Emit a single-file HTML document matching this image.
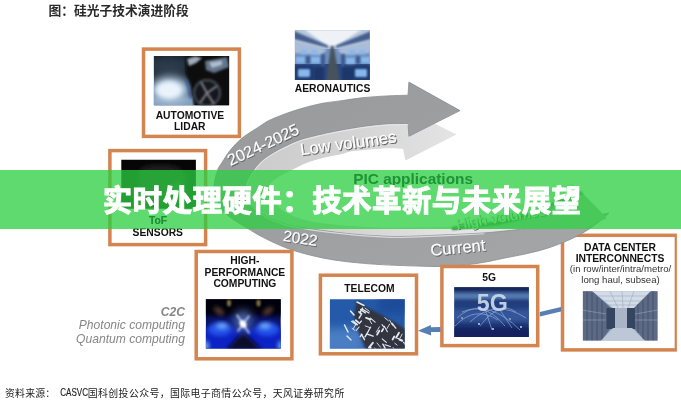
<!DOCTYPE html>
<html lang="zh">
<head>
<meta charset="utf-8">
<title>实时处理硬件：技术革新与未来展望</title>
<style>
html,body{margin:0;padding:0;background:#fff;}
body{width:681px;height:400px;overflow:hidden;position:relative;font-family:"Liberation Sans","Noto Sans CJK SC",sans-serif;}
#stage{opacity:0.999;position:absolute;left:0;top:0;width:681px;height:400px;overflow:hidden;background:#fff;}
svg{position:absolute;left:0;top:0;}
#base{filter:blur(0.3px);}
.banner{position:absolute;left:0;top:170px;width:681px;height:58.8px;background:rgba(44,206,66,0.76);}
.title{position:absolute;left:1.6px;top:171.4px;width:681px;height:59px;line-height:59px;text-align:center;color:#fff;font-weight:bold;font-size:29.5px;letter-spacing:0.43px;font-family:"Liberation Sans","Noto Sans CJK SC",sans-serif;-webkit-text-stroke:1px #fff;}
.lbl{font-family:'Liberation Sans',sans-serif;font-size:16px;fill:#fff;stroke:#fff;stroke-width:0.2px;}
.sh{font-family:'Liberation Sans',sans-serif;font-size:16px;fill:#666;stroke:#666;stroke-width:0.3px;}
</style>
</head>
<body>
<div id="stage">
<svg id="base" width="681" height="400" viewBox="0 0 681 400">
<defs>
  <filter id="soft" x="-5%" y="-5%" width="110%" height="110%"><feGaussianBlur stdDeviation="0.5"/></filter>
  <filter id="b1" x="-30%" y="-30%" width="160%" height="160%"><feGaussianBlur stdDeviation="1"/></filter>
  <filter id="b2" x="-50%" y="-50%" width="200%" height="200%"><feGaussianBlur stdDeviation="2"/></filter>
  <filter id="b4" x="-100%" y="-100%" width="300%" height="300%"><feGaussianBlur stdDeviation="4"/></filter>
  <linearGradient id="darkg" x1="0" y1="0" x2="1" y2="1">
    <stop offset="0" stop-color="#98999b"/><stop offset="1" stop-color="#a5a6a8"/>
  </linearGradient>
  <linearGradient id="lightg" gradientUnits="userSpaceOnUse" x1="250" y1="0" x2="456" y2="0"><stop offset="0" stop-color="#cbcbcb"/><stop offset="0.5" stop-color="#d4d4d4"/><stop offset="1" stop-color="#e4e4e4"/></linearGradient>
  <clipPath id="cCar"><rect x="153.9" y="55.9" width="75.2" height="49.3"/></clipPath>
  <clipPath id="cAero"><rect x="294.9" y="30.2" width="74.9" height="49.7"/></clipPath>
  <clipPath id="cHpc"><rect x="205.9" y="299.2" width="74.8" height="49.3"/></clipPath>
  <clipPath id="cTel"><rect x="329.9" y="299.2" width="74.8" height="49.3"/></clipPath>
  <clipPath id="c5g"><rect x="454.3" y="287.2" width="74.5" height="49.7"/></clipPath>
  <clipPath id="cDc"><rect x="582.9" y="291.2" width="74.6" height="49.3"/></clipPath>
  <clipPath id="cTof"><rect x="121.3" y="159.5" width="74.6" height="49.3"/></clipPath>
</defs>

<!-- header -->
<text x="48.6" y="15.2" font-size="12.75" font-weight="bold" fill="#2a2a2a" font-family="'Liberation Sans','Noto Sans CJK SC',sans-serif">图：硅光子技术演进阶段</text>

<!-- dc box (under swirl) -->
<rect x="562.5" y="235.3" width="113.9" height="114.6" fill="#fff" stroke="#d3844f" stroke-width="3.5"/>
<rect x="676.9" y="225" width="5" height="135" fill="#fff"/>

<!-- swirl -->
<g id="swirl" filter="url(#soft)">
  <path d="M403,107.7 L456.4,134.4 L405.4,160.6 L403.0,148.7 C400.4,148.6 394.0,148.0 387.5,148.2 C381.0,148.4 370.1,149.3 363.8,149.9 C357.6,150.5 354.0,150.7 350.0,151.5 C346.0,152.3 344.6,153.4 340.0,154.5 C335.4,155.6 328.3,156.5 322.5,158.0 C316.7,159.5 310.2,161.4 305.0,163.5 C299.8,165.6 295.7,168.1 291.0,170.5 C286.3,172.9 280.7,175.4 277.0,178.0 C273.3,180.6 270.2,183.0 269.0,186.0 C267.8,189.0 268.8,193.0 270.0,196.0 C271.2,199.0 273.5,201.3 276.0,204.0 C278.5,206.7 280.2,209.3 285.0,212.0 C289.8,214.7 296.8,217.9 305.0,220.0 C313.2,222.1 321.3,223.2 334.0,224.5 C346.7,225.8 363.8,227.1 381.0,227.5 C398.2,227.9 419.8,227.2 437.0,227.0 C454.2,226.8 468.5,226.2 484.0,226.0 C499.5,225.8 522.3,226.0 530.0,226.0 L530.0,228.0 C522.3,229.3 499.5,234.2 484.0,236.0 C468.5,237.8 451.0,238.3 437.0,239.0 C423.0,239.7 413.2,240.2 400.0,240.0 C386.8,239.8 373.3,239.3 357.5,238.0 C341.7,236.7 320.4,235.0 305.0,232.0 C289.6,229.0 274.7,224.7 265.0,220.0 C255.3,215.3 251.0,209.7 247.0,204.0 C243.0,198.3 241.0,191.7 241.0,186.0 C241.0,180.3 242.5,176.2 247.0,170.0 C251.5,163.8 258.9,154.7 268.0,149.0 C277.1,143.3 289.5,139.7 301.5,136.0 C313.5,132.3 325.7,129.7 340.0,127.0 C354.3,124.3 377.0,121.3 387.5,120.0 C398.0,118.7 400.4,119.2 403.0,119.0 Z" fill="url(#lightg)"/>
  <path d="M408.0,95.2 C404.6,95.3 394.9,95.5 387.5,95.9 C380.1,96.3 371.7,96.8 363.8,97.6 C355.9,98.4 346.9,100.0 340.0,100.9 C333.1,101.9 328.3,102.2 322.5,103.3 C316.7,104.4 310.8,105.9 305.0,107.5 C299.2,109.1 293.3,110.9 287.5,113.0 C281.7,115.1 274.8,117.7 270.0,120.0 C265.2,122.3 263.6,123.8 259.0,126.8 C254.4,129.8 247.3,133.9 242.5,137.8 C237.7,141.7 233.8,145.9 230.4,150.0 C227.0,154.1 224.2,159.1 222.0,162.5 C219.8,165.9 218.8,166.6 217.5,170.5 C216.2,174.4 214.2,181.4 214.0,186.0 C213.8,190.6 215.2,194.0 216.5,198.0 C217.8,202.0 219.1,206.3 222.0,210.0 C224.9,213.7 229.7,216.9 234.0,220.0 C238.3,223.1 243.1,225.7 248.0,228.6 C252.9,231.5 257.0,234.3 263.5,237.6 C270.0,240.9 279.2,245.3 287.0,248.2 C294.8,251.1 302.7,253.2 310.5,255.2 C318.3,257.2 326.2,258.7 334.0,260.0 C341.8,261.3 349.7,262.0 357.5,262.8 C365.3,263.6 373.9,264.2 381.0,264.6 C388.1,265.1 390.7,265.2 400.0,265.5 C409.3,265.8 427.0,266.5 437.0,266.5 C447.0,266.5 452.2,266.2 460.0,265.5 C467.8,264.8 476.9,263.5 484.0,262.3 C491.1,261.1 495.7,259.9 502.5,258.5 C509.3,257.1 517.5,255.7 525.0,254.0 C532.5,252.3 540.0,250.6 547.5,248.2 C555.0,245.8 563.2,242.6 570.0,239.5 C576.8,236.4 583.0,232.9 588.0,229.8 C593.0,226.7 596.5,223.8 600.0,221.0 C603.5,218.2 607.5,214.3 609.0,213.0 C604.2,214.0 589.8,217.0 580.0,219.0 C570.2,221.0 560.2,223.3 550.0,225.0 C539.8,226.7 530.0,228.1 519.0,229.4 C508.0,230.7 497.7,231.9 484.0,232.9 C470.3,233.9 451.0,234.6 437.0,235.2 C423.0,235.8 409.3,236.4 400.0,236.5 C390.7,236.6 388.1,236.3 381.0,236.0 C373.9,235.7 365.3,235.2 357.5,234.5 C349.7,233.8 342.8,233.1 334.0,232.0 C325.2,230.9 313.2,229.3 305.0,228.0 C296.8,226.7 291.7,226.0 285.0,224.0 C278.3,222.0 270.7,219.3 265.0,216.0 C259.3,212.7 254.2,209.0 251.0,204.0 C247.8,199.0 245.8,191.3 246.0,186.0 C246.2,180.7 250.0,176.1 252.5,172.0 C255.0,167.9 257.9,164.5 261.0,161.5 C264.1,158.5 266.5,156.8 271.0,154.0 C275.5,151.2 282.9,147.4 288.0,145.0 C293.1,142.6 295.8,141.2 301.5,139.4 C307.2,137.6 316.1,135.6 322.5,134.1 C328.9,132.6 333.1,131.8 340.0,130.5 C346.9,129.2 355.9,127.6 363.8,126.5 C371.7,125.4 380.1,124.5 387.5,124.0 C394.9,123.5 404.6,123.8 408.0,123.7 L408.9,136.3 L460,110.6 L408.9,82.1 Z" fill="url(#darkg)" stroke="#8c8d90" stroke-width="0.8"/>
  <path d="M484.0,232.9 C476.2,233.3 451.0,234.6 437.0,235.2 C423.0,235.8 409.3,236.4 400.0,236.5 C390.7,236.6 388.1,236.3 381.0,236.0 C373.9,235.7 365.3,235.2 357.5,234.5 C349.7,233.8 342.8,233.1 334.0,232.0 C325.2,230.9 313.2,229.3 305.0,228.0 C296.8,226.7 291.7,226.0 285.0,224.0 C278.3,222.0 270.7,219.3 265.0,216.0 C259.3,212.7 254.2,209.0 251.0,204.0 C247.8,199.0 245.8,191.3 246.0,186.0 C246.2,180.7 250.0,176.1 252.5,172.0 C255.0,167.9 257.9,164.5 261.0,161.5 C264.1,158.5 266.5,156.8 271.0,154.0 C275.5,151.2 282.9,147.4 288.0,145.0 C293.1,142.6 295.8,141.2 301.5,139.4 C307.2,137.6 316.1,135.6 322.5,134.1 C328.9,132.6 333.1,131.8 340.0,130.5 C346.9,129.2 355.9,127.6 363.8,126.5 C371.7,125.4 380.1,124.5 387.5,124.0 C394.9,123.5 404.6,123.8 408.0,123.7" fill="none" stroke="#ececec" stroke-width="1.1" opacity="0.75" transform="translate(0.3,0.9)"/>
  <path d="M455.0,226.0 C462.5,224.0 484.6,219.9 500.0,214.2 C515.4,208.5 535.3,196.7 547.3,191.6 C559.3,186.5 567.9,184.8 572.0,183.4 L582.0,192.6 C576.9,194.7 565.1,199.8 551.4,205.0 C537.7,210.2 516.1,219.3 500.0,223.5 C483.9,227.7 462.5,228.9 455.0,230.0 Z" fill="#e9f3d9"/>
  <path d="M452.0,228.5 C455.0,228.1 462.0,227.0 470.0,226.0 C478.0,225.0 490.0,224.5 500.0,222.5 C510.0,220.5 521.5,216.9 530.0,214.0 C538.5,211.1 544.7,207.7 551.0,205.0 C557.3,202.3 562.8,200.1 568.0,198.0 C573.2,195.9 579.7,193.5 582.0,192.6 L607.0,218.3 C605.0,219.1 599.0,221.3 595.0,223.0 C591.0,224.7 590.5,227.6 583.0,228.6 C575.5,229.6 560.7,228.8 550.0,228.8 C539.3,228.8 530.0,228.8 519.0,228.8 C508.0,228.8 495.2,228.9 484.0,229.0 C472.8,229.1 457.3,229.4 452.0,229.5 Z" fill="#a2b8a2"/>
  <path d="M452.0,228.5 C455.0,228.1 462.0,227.0 470.0,226.0 C478.0,225.0 490.0,224.5 500.0,222.5 C510.0,220.5 521.5,216.9 530.0,214.0 C538.5,211.1 544.7,207.7 551.0,205.0 C557.3,202.3 562.8,200.1 568.0,198.0 C573.2,195.9 579.7,193.5 582.0,192.6" fill="none" stroke="#2f5f2f" stroke-width="3" filter="url(#b1)"/>
</g>
<g id="swirltext">
  <text class="sh" transform="translate(231.4,166.9) rotate(-25.2)" textLength="77">2024-2025</text>
  <text class="lbl" transform="translate(230.6,166) rotate(-25.2)" textLength="77">2024-2025</text>
  <text style="font-size:16.6px" class="sh" transform="translate(302,156.3) rotate(-7.8)">Low volumes</text>
  <text style="font-size:16.6px" class="lbl" transform="translate(301,155.3) rotate(-7.8)">Low volumes</text>
  <text style="font-size:15.5px" class="sh" transform="translate(283.3,241.7) rotate(9)">2022</text>
  <text style="font-size:15.5px" class="lbl" transform="translate(282.5,240.8) rotate(9)">2022</text>
  <text style="font-size:16.5px" class="sh" transform="translate(431.8,256.9) rotate(-5.7)">Current</text>
  <text style="font-size:16.5px" class="lbl" transform="translate(431,256) rotate(-5.7)">Current</text>
  <text class="sh" transform="translate(457.9,230) rotate(-9)" style="font-size:15px;fill:#2c6a35">High volumes</text>
  <text class="lbl" transform="translate(457,229.2) rotate(-9)" style="font-size:15px;fill:#dff2df">High volumes</text>
</g>

<!-- boxes -->
<g fill="#fff" stroke="#d3844f" stroke-width="3.5">
  <rect x="143.5" y="49.1" width="95.9" height="87.3"/>
  <rect x="109.9" y="150.6" width="95.7" height="94"/>
  <rect x="196.2" y="251.5" width="95.7" height="107.3"/>
  <rect x="320.4" y="275.2" width="96.1" height="78.6"/>
  <rect x="441.9" y="266.5" width="95.8" height="79.1"/>
</g>

<!-- images -->
<g clip-path="url(#cCar)">
  <rect x="153" y="55" width="77" height="51" fill="#18212b"/>
  <ellipse cx="168" cy="66" rx="22" ry="9" fill="#2a3a4b" filter="url(#b4)"/>
  <rect x="146" y="96" width="62" height="14" fill="#7f9dbb" filter="url(#b2)"/>
  <ellipse cx="170" cy="90" rx="21" ry="14" fill="#a9c2da" filter="url(#b4)"/>
  <ellipse cx="169" cy="90" rx="13" ry="9" fill="#eaf2fb" filter="url(#b2)"/>
  <path d="M186,54 C186,64 184,72 189,80 C192,88 193,98 194,107 L232,107 L232,54 Z" fill="#07090c" filter="url(#b1)"/>
  <path d="M187,59 L195,56.5 L202,58 L196,63 L189,66 Z" fill="#9fabb8" filter="url(#b1)"/>
  <path d="M205,61 L227,57 L229,67 L214,73 L206,70 Z" fill="#64748a" filter="url(#b1)"/>
  <path d="M209,62.5 L222,60.5 L222,65 L212,68 Z" fill="#aebdd0" filter="url(#b1)"/>
  <circle cx="207" cy="93" r="13" fill="#15181d" stroke="#3d4249" stroke-width="2.5" filter="url(#b1)"/>
  <g stroke="#7d838b" stroke-width="2" filter="url(#b1)">
    <line x1="207" y1="93" x2="201" y2="82"/><line x1="207" y1="93" x2="217" y2="86"/>
    <line x1="207" y1="93" x2="200" y2="103"/><line x1="207" y1="93" x2="214" y2="104"/>
  </g>
  <path d="M186,79 C188,85 190,92 191,99" stroke="#2d4fa5" stroke-width="1.5" fill="none" filter="url(#b1)"/>
</g>
<g clip-path="url(#cAero)">
  <rect x="294" y="29" width="77" height="52" fill="#6f8fbd"/>
  <rect x="294" y="29" width="77" height="20" fill="#b9c9de"/>
  <rect x="294" y="64" width="77" height="17" fill="#2c4680"/>
  <path d="M304,29 L362,29 L337,46 L327,46 Z" fill="#eef2f7" filter="url(#b1)"/>
  <path d="M294,31 L328,45.5 L328,48 L294,39 Z" fill="#445f8e" filter="url(#b1)"/>
  <path d="M371,31 L336,45.5 L336,48 L371,39 Z" fill="#445f8e" filter="url(#b1)"/>
  <path d="M294,41 L327,49 L322,55 L294,53 Z" fill="#a9bcd8" filter="url(#b1)"/>
  <path d="M371,41 L337,49 L342,55 L371,53 Z" fill="#a9bcd8" filter="url(#b1)"/>
  <path d="M331,46 L333.5,46 L340,81 L326,81 Z" fill="#46525c" filter="url(#b1)"/>
  <g fill="#1f376a" filter="url(#b1)">
    <rect x="295" y="66" width="18" height="14" rx="1"/><rect x="352" y="66" width="18" height="14" rx="1"/>
    <rect x="314" y="67" width="10" height="14"/><rect x="342" y="67" width="10" height="14"/>
  </g>
  <g fill="#86b8ee" filter="url(#b1)">
    <rect x="298" y="69" width="12" height="8" rx="1"/><rect x="355" y="69" width="12" height="8" rx="1"/>
    <rect x="296" y="57" width="9" height="6"/><rect x="311" y="57" width="9" height="6"/>
    <rect x="346" y="58" width="9" height="6"/><rect x="361" y="57" width="9" height="6"/>
    <rect x="301" y="50" width="6" height="4"/><rect x="311" y="50" width="6" height="4"/>
    <rect x="349" y="50" width="6" height="4"/><rect x="359" y="50" width="6" height="4"/>
  </g>
  <g fill="#3d5a94" filter="url(#b1)">
    <rect x="306" y="56" width="4" height="8"/><rect x="356" y="56" width="4" height="8"/>
    <rect x="321" y="54" width="4" height="12"/><rect x="341" y="54" width="4" height="12"/>
  </g>
</g>
<g clip-path="url(#cTof)">
  <rect x="121" y="159.5" width="75" height="49.5" fill="#060606"/>
  <path d="M139,170 C146,163 170,163 180,168 L186,176 L186,200 L170,205 L139,200 Z" fill="#1b1c1e" filter="url(#b2)"/>
  <ellipse cx="178" cy="190" rx="6" ry="9" fill="#2c3a30" filter="url(#b2)"/>
</g>
<g clip-path="url(#cHpc)">
  <rect x="205" y="298" width="77" height="52" fill="#0a1268"/>
  <rect x="200" y="292" width="86" height="24" fill="#04040a" filter="url(#b2)"/>
  <rect x="200" y="328" width="86" height="26" fill="#1020c4" filter="url(#b2)"/>
  <ellipse cx="220" cy="329" rx="12" ry="7" fill="#2454ea" filter="url(#b2)"/>
  <ellipse cx="267" cy="329" rx="12" ry="7" fill="#2454ea" filter="url(#b2)"/>
  <ellipse cx="222" cy="326" rx="6" ry="3" fill="#6fa6f0" filter="url(#b2)"/>
  <ellipse cx="265" cy="326" rx="6" ry="3" fill="#6fa6f0" filter="url(#b2)"/>
  <ellipse cx="219" cy="311" rx="6" ry="3" fill="#7a5238" opacity="0.75" filter="url(#b2)" transform="rotate(35 219 311)"/>
  <ellipse cx="268" cy="311" rx="6" ry="3" fill="#7a5238" opacity="0.75" filter="url(#b2)" transform="rotate(-35 268 311)"/>
  <ellipse cx="229" cy="303" rx="2" ry="3.5" fill="#a8964a" opacity="0.8" filter="url(#b1)"/>
  <ellipse cx="258.5" cy="303" rx="2" ry="3.5" fill="#a8964a" opacity="0.8" filter="url(#b1)"/>
  <path d="M243,331 L226,350 L262,350 Z" fill="#07082a" filter="url(#b2)"/>
  <ellipse cx="243" cy="321" rx="10" ry="11" fill="#4c66a8" opacity="0.9" filter="url(#b4)"/>
  <g stroke="#c9d6ee" stroke-width="1.5" stroke-linecap="round" filter="url(#b1)">
    <line x1="237" y1="315" x2="249" y2="333"/><line x1="249" y1="316" x2="238" y2="331"/>
  </g>
  <ellipse cx="243" cy="324" rx="3" ry="4" fill="#ffffff" filter="url(#b1)" transform="rotate(-35 243 324)"/>
  <ellipse cx="206" cy="346" rx="3" ry="5" fill="#6fb0e8" filter="url(#b2)"/>
  <ellipse cx="281" cy="346" rx="3" ry="5" fill="#6fb0e8" filter="url(#b2)"/>
</g>
<g clip-path="url(#cTel)">
  <rect x="329" y="298" width="77" height="52" fill="#245aa9"/>
  <rect x="322" y="328" width="42" height="26" fill="#4a7ec4" filter="url(#b4)"/>
  <rect x="378" y="294" width="32" height="20" fill="#1b4c9a" filter="url(#b4)"/>
  <path d="M357,300 L366,307 L380,314 L396,323 L406,330 L406,350 L366,350 L361,338 L356,326 L354,315 Z" fill="#30353f" filter="url(#b1)"/>
  <g stroke="#e4e9ef" stroke-linecap="round" filter="url(#soft)">
  <line x1="365.1" y1="308.2" x2="369.3" y2="311.2" stroke-width="0.9"/>
  <line x1="351.4" y1="321.4" x2="356.1" y2="324.7" stroke-width="1.1"/>
  <line x1="383.2" y1="329.0" x2="381.8" y2="331.4" stroke-width="1.8"/>
  <line x1="370.7" y1="327.0" x2="368.3" y2="331.1" stroke-width="1.1"/>
  <line x1="352.1" y1="328.4" x2="354.7" y2="330.3" stroke-width="0.9"/>
  <line x1="379.3" y1="330.7" x2="377.1" y2="334.6" stroke-width="1.8"/>
  <line x1="391.9" y1="323.3" x2="395.8" y2="328.1" stroke-width="1.4"/>
  <line x1="360.7" y1="309.6" x2="365.3" y2="312.9" stroke-width="1.4"/>
  <line x1="377.0" y1="343.0" x2="380.5" y2="347.2" stroke-width="0.9"/>
  <line x1="353.0" y1="321.1" x2="357.2" y2="324.6" stroke-width="1.8"/>
  <line x1="370.9" y1="347.2" x2="369.5" y2="349.6" stroke-width="1.4"/>
  <line x1="366.1" y1="317.8" x2="370.3" y2="319.3" stroke-width="1.8"/>
  <line x1="361.9" y1="334.5" x2="360.2" y2="336.6" stroke-width="1.4"/>
  <line x1="384.2" y1="348.7" x2="387.9" y2="353.1" stroke-width="1.8"/>
  <line x1="382.0" y1="324.7" x2="384.2" y2="327.3" stroke-width="1.1"/>
  <line x1="389.6" y1="320.1" x2="392.6" y2="325.4" stroke-width="0.9"/>
  <line x1="355.8" y1="320.3" x2="358.6" y2="322.6" stroke-width="1.8"/>
  <line x1="370.5" y1="318.2" x2="375.1" y2="322.1" stroke-width="1.1"/>
  <line x1="362.6" y1="308.0" x2="360.3" y2="312.0" stroke-width="1.4"/>
  <line x1="402.2" y1="334.1" x2="400.0" y2="338.1" stroke-width="0.9"/>
  <line x1="372.9" y1="342.8" x2="368.9" y2="347.6" stroke-width="1.8"/>
  <line x1="369.5" y1="319.9" x2="371.7" y2="323.8" stroke-width="0.9"/>
  <line x1="379.4" y1="326.8" x2="376.3" y2="332.2" stroke-width="0.9"/>
  <line x1="368.2" y1="331.5" x2="365.0" y2="336.9" stroke-width="1.4"/>
  <line x1="374.8" y1="347.9" x2="377.6" y2="351.3" stroke-width="0.9"/>
  <line x1="389.7" y1="324.0" x2="387.0" y2="328.5" stroke-width="0.9"/>
  <line x1="367.3" y1="334.1" x2="373.1" y2="336.2" stroke-width="1.4"/>
  <line x1="403.7" y1="342.4" x2="407.1" y2="346.5" stroke-width="1.4"/>
  <line x1="359.1" y1="327.0" x2="356.2" y2="330.5" stroke-width="1.1"/>
  <line x1="382.2" y1="338.8" x2="386.4" y2="342.4" stroke-width="1.1"/>
  <line x1="394.3" y1="336.5" x2="392.6" y2="339.5" stroke-width="1.8"/>
  <line x1="361.3" y1="334.2" x2="364.5" y2="339.7" stroke-width="1.4"/>
  <line x1="359.0" y1="311.9" x2="361.5" y2="314.0" stroke-width="1.8"/>
  <line x1="382.8" y1="344.2" x2="385.8" y2="349.3" stroke-width="1.4"/>
  <line x1="385.0" y1="344.7" x2="390.3" y2="346.6" stroke-width="1.1"/>
  <line x1="393.2" y1="347.6" x2="395.3" y2="351.2" stroke-width="0.9"/>
  <line x1="399.4" y1="339.7" x2="402.3" y2="340.8" stroke-width="1.8"/>
  <line x1="384.8" y1="317.8" x2="388.4" y2="320.8" stroke-width="0.9"/>
  <line x1="384.3" y1="326.3" x2="387.4" y2="331.7" stroke-width="1.1"/>
  <line x1="360.9" y1="315.1" x2="359.1" y2="318.1" stroke-width="1.4"/>
  <line x1="361.3" y1="321.1" x2="359.4" y2="323.4" stroke-width="1.4"/>
  <line x1="399.0" y1="332.8" x2="396.1" y2="337.8" stroke-width="1.8"/>
  <line x1="394.8" y1="343.2" x2="397.1" y2="345.1" stroke-width="0.9"/>
  <line x1="397.5" y1="338.3" x2="402.1" y2="340.0" stroke-width="1.1"/>
  <line x1="356.2" y1="323.7" x2="353.5" y2="328.4" stroke-width="0.9"/>
  <line x1="365.2" y1="325.9" x2="369.7" y2="327.5" stroke-width="0.9"/>
    <line x1="357" y1="302" x2="364" y2="305.5" stroke-width="1.5"/><line x1="350.5" y1="311" x2="354" y2="315" stroke-width="1.5"/>
    <line x1="344.5" y1="325" x2="348" y2="332" stroke-width="1.5"/><line x1="347" y1="336" x2="351" y2="340" stroke-width="1.3"/>
    <line x1="362" y1="309" x2="369" y2="313" stroke-width="1.4"/>
  </g>
</g>
<g clip-path="url(#c5g)">
  <rect x="453" y="286" width="76" height="52" fill="#1f3a78"/>
  <rect x="448" y="283" width="86" height="9" fill="#14275a" filter="url(#b2)"/>
  <rect x="448" y="293" width="86" height="6" fill="#5f86ba" filter="url(#b2)"/>
  <rect x="448" y="302" width="86" height="5" fill="#243f80" filter="url(#b2)"/>
  <rect x="448" y="309" width="86" height="13" fill="#34559a" filter="url(#b2)"/>
  <rect x="448" y="327" width="86" height="14" fill="#14225f" filter="url(#b2)"/>
  <g stroke="#a9caee" stroke-width="0.7" fill="none" opacity="0.75">
    <path d="M457,318 Q480,296 505,326"/><path d="M470,322 Q495,298 526,318"/>
    <path d="M462,312 Q490,300 520,330"/><path d="M480,326 Q500,300 516,312"/>
    <path d="M455,326 Q475,305 498,320"/><path d="M486,312 L492,330"/><path d="M500,310 L512,328"/>
  </g>
  <g fill="#d8e6f6"><circle cx="479" cy="324" r="0.9"/><circle cx="493" cy="329" r="0.9"/><circle cx="521" cy="327" r="0.9"/><circle cx="462" cy="318" r="0.8"/><circle cx="510" cy="319" r="0.8"/></g>
  <text transform="translate(476.8,311.3)" font-family="'Liberation Sans',sans-serif" font-weight="bold" font-size="23.3" fill="#c9d9ec" fill-opacity="0.92" filter="url(#soft)">5G</text>
</g>
<g clip-path="url(#cDc)">
  <rect x="582" y="291" width="76" height="50" fill="#97a6bb"/>
  <path d="M592,291 L651,291 L634,308 L613,308 Z" fill="#d3dbe6" filter="url(#soft)"/>
  <path d="M582,291 L592,291 L611,308 L611,328 L601,341 L582,341 Z" fill="#5b6b85" filter="url(#soft)"/>
  <path d="M658,291 L651,291 L634,308 L634,328 L645,341 L658,341 Z" fill="#5b6b85" filter="url(#soft)"/>
  <rect x="606.5" y="308" width="8.5" height="21" fill="#34445f" filter="url(#soft)"/>
  <rect x="627" y="308" width="8" height="21" fill="#34445f" filter="url(#soft)"/>
  <rect x="615" y="308" width="12" height="20" fill="#a9b5c6" filter="url(#soft)"/>
  <path d="M613,328 L632,328 L645,341 L601,341 Z" fill="#bcc8d7" filter="url(#soft)"/>
  <g stroke="#2c3a52" stroke-width="0.8" opacity="0.6">
    <line x1="587" y1="291" x2="587" y2="341"/><line x1="592" y1="293" x2="592" y2="341"/><line x1="597" y1="297" x2="597" y2="341"/><line x1="602" y1="301" x2="602" y2="339"/>
    <line x1="653" y1="291" x2="653" y2="341"/><line x1="648" y1="295" x2="648" y2="341"/><line x1="643" y1="300" x2="643" y2="339"/><line x1="638" y1="304" x2="638" y2="333"/>
  </g>
  <g stroke="#8f9db4" stroke-width="0.6" opacity="0.8">
    <line x1="597" y1="296" x2="646" y2="296"/><line x1="603" y1="301" x2="641" y2="301"/><line x1="608" y1="305" x2="637" y2="305"/>
    <line x1="610" y1="291" x2="618" y2="308"/><line x1="622" y1="291" x2="623" y2="308"/><line x1="634" y1="291" x2="628" y2="308"/>
  </g>
  <g stroke="#c5cfdc" stroke-width="0.6" opacity="0.6">
    <line x1="582" y1="310" x2="606" y2="314"/><line x1="582" y1="320" x2="606" y2="320"/><line x1="658" y1="310" x2="635" y2="314"/><line x1="658" y1="320" x2="635" y2="320"/>
  </g>
</g>

<!-- labels -->
<g font-family="'Liberation Sans',sans-serif" font-weight="bold" font-size="10.3" fill="#111" text-anchor="middle">
  <text x="189.9" y="118.8">AUTOMOTIVE</text>
  <text x="189.8" y="129.8">LIDAR</text>
  <text x="332.5" y="91.6">AERONAUTICS</text>
  <text x="158" y="223.8">ToF</text>
  <text x="157.8" y="235.9">SENSORS</text>
  <text x="244.9" y="264.3">HIGH-</text>
  <text x="244.9" y="275.8">PERFORMANCE</text>
  <text x="244.9" y="286.7">COMPUTING</text>
  <text x="369.4" y="291.8">TELECOM</text>
  <text x="489.2" y="280.7" font-size="10.3">5G</text>
  <text x="620" y="251">DATA CENTER</text>
  <text x="620" y="262.3">INTERCONNECTS</text>
</g>
<g font-family="'Liberation Sans',sans-serif" font-size="9.6" fill="#333" text-anchor="middle">
  <text x="620.5" y="272.2">(in row/inter/intra/metro/</text>
  <text x="620.5" y="282.8">long haul, subsea)</text>
</g>
<g font-family="'Liberation Sans',sans-serif" font-size="12.1" fill="#868686" text-anchor="end" font-style="italic">
  <text x="185" y="316.4" font-weight="bold">C2C</text>
  <text x="185" y="329.4">Photonic computing</text>
  <text x="185" y="343.4">Quantum computing</text>
</g>

<!-- blue arrows -->
<g fill="#587fb2" stroke="none">
  <path d="M539.8,311.9 L561,307 L561,311.5 L539.8,316.4 Z"/>
  <path d="M440.4,327 L431,327.2 L430.8,325 L418,330.7 L431.1,335.4 L431,332 L440.4,331.9 Z"/>
</g>

<!-- footer -->
<g fill="#222" font-family="'Liberation Sans','Noto Sans CJK SC',sans-serif">
<text x="5" y="396.8" font-size="9.9" letter-spacing="0.2">资料来源：</text>
<text transform="translate(60.2,396.2) scale(0.8,1)" font-size="10.1" stroke="#222" stroke-width="0.15">CASVC</text>
<text x="87.8" y="396.8" font-size="9.9" letter-spacing="0.4">国科创投公众号，国际电子商情公众号，天风证券研究所</text>
</g>
</svg>
<div class="banner"></div>
<svg width="681" height="400" viewBox="0 0 681 400"><text x="158" y="223.8" text-anchor="middle" font-family="'Liberation Sans',sans-serif" font-weight="bold" font-size="10.3" fill="#1f8a38" fill-opacity="0.8">ToF</text><text x="353.2" y="184" font-size="15.4" font-weight="bold" fill="#1d9436" textLength="119.8" font-family="'Liberation Sans',sans-serif">PIC applications</text></svg>
<div class="title">实时处理硬件：技术革新与未来展望</div>
</div>
</body>
</html>
